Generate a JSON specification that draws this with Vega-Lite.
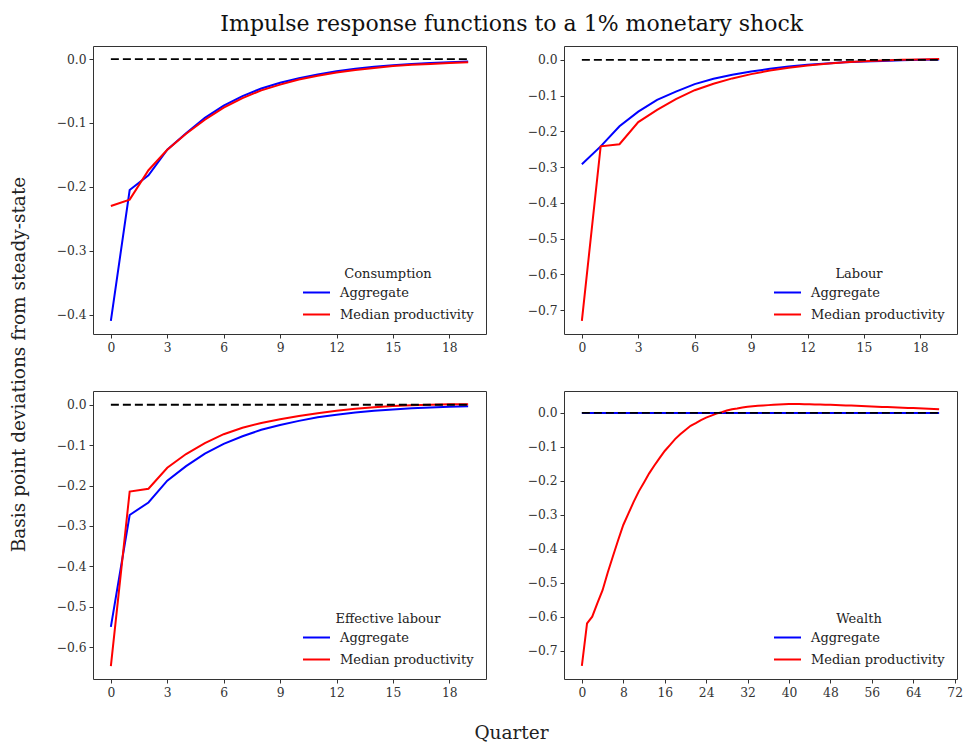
{
  "$schema": "https://vega.github.io/schema/vega-lite/v6.json",
  "padding": {"left": 8, "top": 12, "right": 5, "bottom": 0},
  "background": "white",
  "title": {"text": "Impulse response functions to a 1% monetary shock", "anchor": "middle", "fontSize": 22, "font": "DejaVu Serif", "fontWeight": "normal", "color": "#111", "offset": 10, "dx": 26},
  "config": {
    "view": {"stroke": "#333", "strokeWidth": 1},
    "font": "DejaVu Serif",
    "axis": {"labelFont": "DejaVu Serif", "labelFontSize": 12.3, "labelColor": "#333", "tickColor": "#333", "tickSize": 4, "labelPadding": 3, "domain": false, "grid": false, "titleFont": "DejaVu Serif", "titleFontWeight": "normal", "titleFontSize": 18.5, "titleColor": "#222"},
    "legend": {"orient": "bottom-right", "offset": 12, "titleFont": "DejaVu Serif", "titleFontWeight": "normal", "titleFontSize": 13, "titleColor": "#222", "labelFont": "DejaVu Serif", "labelFontSize": 13, "labelColor": "#222", "labelOffset": 9, "symbolType": "stroke", "symbolStrokeWidth": 2, "symbolSize": 729, "titleAnchor": "middle", "rowPadding": -5, "titlePadding": -3}
  },
  "datasets": {
    "cons": [
      {"q": 0, "Aggregate": -0.410, "Median productivity": -0.230},
      {"q": 1, "Aggregate": -0.205, "Median productivity": -0.220},
      {"q": 2, "Aggregate": -0.182, "Median productivity": -0.174},
      {"q": 3, "Aggregate": -0.142, "Median productivity": -0.142},
      {"q": 4, "Aggregate": -0.116, "Median productivity": -0.117},
      {"q": 5, "Aggregate": -0.092, "Median productivity": -0.095},
      {"q": 6, "Aggregate": -0.073, "Median productivity": -0.076},
      {"q": 7, "Aggregate": -0.058, "Median productivity": -0.061},
      {"q": 8, "Aggregate": -0.046, "Median productivity": -0.049},
      {"q": 9, "Aggregate": -0.037, "Median productivity": -0.040},
      {"q": 10, "Aggregate": -0.030, "Median productivity": -0.032},
      {"q": 11, "Aggregate": -0.024, "Median productivity": -0.026},
      {"q": 12, "Aggregate": -0.019, "Median productivity": -0.021},
      {"q": 13, "Aggregate": -0.015, "Median productivity": -0.017},
      {"q": 14, "Aggregate": -0.012, "Median productivity": -0.014},
      {"q": 15, "Aggregate": -0.0095, "Median productivity": -0.011},
      {"q": 16, "Aggregate": -0.0076, "Median productivity": -0.009},
      {"q": 17, "Aggregate": -0.006, "Median productivity": -0.0075},
      {"q": 18, "Aggregate": -0.0048, "Median productivity": -0.006},
      {"q": 19, "Aggregate": -0.0038, "Median productivity": -0.005}
    ],
    "labour": [
      {"q": 0, "Aggregate": -0.292, "Median productivity": -0.730},
      {"q": 1, "Aggregate": -0.242, "Median productivity": -0.242},
      {"q": 2, "Aggregate": -0.186, "Median productivity": -0.236},
      {"q": 3, "Aggregate": -0.145, "Median productivity": -0.174},
      {"q": 4, "Aggregate": -0.112, "Median productivity": -0.140},
      {"q": 5, "Aggregate": -0.089, "Median productivity": -0.110},
      {"q": 6, "Aggregate": -0.068, "Median productivity": -0.085},
      {"q": 7, "Aggregate": -0.053, "Median productivity": -0.067},
      {"q": 8, "Aggregate": -0.042, "Median productivity": -0.052},
      {"q": 9, "Aggregate": -0.033, "Median productivity": -0.040},
      {"q": 10, "Aggregate": -0.025, "Median productivity": -0.030},
      {"q": 11, "Aggregate": -0.019, "Median productivity": -0.022},
      {"q": 12, "Aggregate": -0.014, "Median productivity": -0.016},
      {"q": 13, "Aggregate": -0.010, "Median productivity": -0.011},
      {"q": 14, "Aggregate": -0.007, "Median productivity": -0.007},
      {"q": 15, "Aggregate": -0.005, "Median productivity": -0.004},
      {"q": 16, "Aggregate": -0.003, "Median productivity": -0.002},
      {"q": 17, "Aggregate": -0.001, "Median productivity": 0.000},
      {"q": 18, "Aggregate": 0.000, "Median productivity": 0.001},
      {"q": 19, "Aggregate": 0.001, "Median productivity": 0.002}
    ],
    "eff": [
      {"q": 0, "Aggregate": -0.550, "Median productivity": -0.647},
      {"q": 1, "Aggregate": -0.273, "Median productivity": -0.215},
      {"q": 2, "Aggregate": -0.242, "Median productivity": -0.208},
      {"q": 3, "Aggregate": -0.188, "Median productivity": -0.156},
      {"q": 4, "Aggregate": -0.152, "Median productivity": -0.122},
      {"q": 5, "Aggregate": -0.121, "Median productivity": -0.095},
      {"q": 6, "Aggregate": -0.097, "Median productivity": -0.073},
      {"q": 7, "Aggregate": -0.078, "Median productivity": -0.057},
      {"q": 8, "Aggregate": -0.062, "Median productivity": -0.045},
      {"q": 9, "Aggregate": -0.050, "Median productivity": -0.036},
      {"q": 10, "Aggregate": -0.040, "Median productivity": -0.028},
      {"q": 11, "Aggregate": -0.031, "Median productivity": -0.021},
      {"q": 12, "Aggregate": -0.025, "Median productivity": -0.015},
      {"q": 13, "Aggregate": -0.019, "Median productivity": -0.010},
      {"q": 14, "Aggregate": -0.015, "Median productivity": -0.006},
      {"q": 15, "Aggregate": -0.012, "Median productivity": -0.003},
      {"q": 16, "Aggregate": -0.009, "Median productivity": -0.001},
      {"q": 17, "Aggregate": -0.007, "Median productivity": 0.000},
      {"q": 18, "Aggregate": -0.005, "Median productivity": 0.001},
      {"q": 19, "Aggregate": -0.004, "Median productivity": 0.0015}
    ],
    "wealth": [
      {"q": 0, "Aggregate": 0, "Median productivity": -0.745},
      {"q": 1, "Aggregate": 0, "Median productivity": -0.620},
      {"q": 2, "Aggregate": 0, "Median productivity": -0.600},
      {"q": 3, "Aggregate": 0, "Median productivity": -0.560},
      {"q": 4, "Aggregate": 0, "Median productivity": -0.522},
      {"q": 5, "Aggregate": 0, "Median productivity": -0.470},
      {"q": 6, "Aggregate": 0, "Median productivity": -0.422},
      {"q": 7, "Aggregate": 0, "Median productivity": -0.375},
      {"q": 8, "Aggregate": 0, "Median productivity": -0.330},
      {"q": 9, "Aggregate": 0, "Median productivity": -0.296},
      {"q": 10, "Aggregate": 0, "Median productivity": -0.262},
      {"q": 11, "Aggregate": 0, "Median productivity": -0.231},
      {"q": 12, "Aggregate": 0, "Median productivity": -0.205},
      {"q": 13, "Aggregate": 0, "Median productivity": -0.178},
      {"q": 14, "Aggregate": 0, "Median productivity": -0.155},
      {"q": 15, "Aggregate": 0, "Median productivity": -0.133},
      {"q": 16, "Aggregate": 0, "Median productivity": -0.112},
      {"q": 17, "Aggregate": 0, "Median productivity": -0.095},
      {"q": 18, "Aggregate": 0, "Median productivity": -0.077},
      {"q": 19, "Aggregate": 0, "Median productivity": -0.063},
      {"q": 20, "Aggregate": 0, "Median productivity": -0.050},
      {"q": 21, "Aggregate": 0, "Median productivity": -0.038},
      {"q": 22, "Aggregate": 0, "Median productivity": -0.030},
      {"q": 23, "Aggregate": 0, "Median productivity": -0.021},
      {"q": 24, "Aggregate": 0, "Median productivity": -0.014},
      {"q": 25, "Aggregate": 0, "Median productivity": -0.008},
      {"q": 26, "Aggregate": 0, "Median productivity": -0.002},
      {"q": 27, "Aggregate": 0, "Median productivity": 0.002},
      {"q": 28, "Aggregate": 0, "Median productivity": 0.007},
      {"q": 29, "Aggregate": 0, "Median productivity": 0.011},
      {"q": 30, "Aggregate": 0, "Median productivity": 0.013},
      {"q": 31, "Aggregate": 0, "Median productivity": 0.016},
      {"q": 32, "Aggregate": 0, "Median productivity": 0.018},
      {"q": 33, "Aggregate": 0, "Median productivity": 0.020},
      {"q": 34, "Aggregate": 0, "Median productivity": 0.021},
      {"q": 35, "Aggregate": 0, "Median productivity": 0.022},
      {"q": 36, "Aggregate": 0, "Median productivity": 0.023},
      {"q": 37, "Aggregate": 0, "Median productivity": 0.024},
      {"q": 38, "Aggregate": 0, "Median productivity": 0.025},
      {"q": 39, "Aggregate": 0, "Median productivity": 0.0255},
      {"q": 40, "Aggregate": 0, "Median productivity": 0.026},
      {"q": 41, "Aggregate": 0, "Median productivity": 0.026},
      {"q": 42, "Aggregate": 0, "Median productivity": 0.026},
      {"q": 43, "Aggregate": 0, "Median productivity": 0.0258},
      {"q": 44, "Aggregate": 0, "Median productivity": 0.0255},
      {"q": 45, "Aggregate": 0, "Median productivity": 0.025},
      {"q": 46, "Aggregate": 0, "Median productivity": 0.0248},
      {"q": 47, "Aggregate": 0, "Median productivity": 0.0244},
      {"q": 48, "Aggregate": 0, "Median productivity": 0.024},
      {"q": 49, "Aggregate": 0, "Median productivity": 0.0234},
      {"q": 50, "Aggregate": 0, "Median productivity": 0.0228},
      {"q": 51, "Aggregate": 0, "Median productivity": 0.0222},
      {"q": 52, "Aggregate": 0, "Median productivity": 0.0216},
      {"q": 53, "Aggregate": 0, "Median productivity": 0.021},
      {"q": 54, "Aggregate": 0, "Median productivity": 0.0204},
      {"q": 55, "Aggregate": 0, "Median productivity": 0.0198},
      {"q": 56, "Aggregate": 0, "Median productivity": 0.019},
      {"q": 57, "Aggregate": 0, "Median productivity": 0.0184},
      {"q": 58, "Aggregate": 0, "Median productivity": 0.0178},
      {"q": 59, "Aggregate": 0, "Median productivity": 0.0172},
      {"q": 60, "Aggregate": 0, "Median productivity": 0.0166},
      {"q": 61, "Aggregate": 0, "Median productivity": 0.016},
      {"q": 62, "Aggregate": 0, "Median productivity": 0.0154},
      {"q": 63, "Aggregate": 0, "Median productivity": 0.0148},
      {"q": 64, "Aggregate": 0, "Median productivity": 0.0142},
      {"q": 65, "Aggregate": 0, "Median productivity": 0.0136},
      {"q": 66, "Aggregate": 0, "Median productivity": 0.013},
      {"q": 67, "Aggregate": 0, "Median productivity": 0.0124},
      {"q": 68, "Aggregate": 0, "Median productivity": 0.0118},
      {"q": 69, "Aggregate": 0, "Median productivity": 0.011}
    ]
  },
  "bounds": "flush",
  "columns": 2,
  "spacing": {"column": 78, "row": 57},
  "concat": [
    {
      "width": 393, "height": 288,
      "layer": [
        {
          "data": {"name": "cons"},
          "transform": [{"fold": ["Aggregate", "Median productivity"], "as": ["series", "value"]}],
          "mark": {"type": "line", "strokeWidth": 2},
          "encoding": {
            "x": {"field": "q", "type": "quantitative", "scale": {"domain": [-0.95, 19.95], "nice": false, "zero": false}, "axis": {"values": [0, 3, 6, 9, 12, 15, 18], "title": null}},
            "y": {"field": "value", "type": "quantitative", "scale": {"domain": [-0.4305, 0.0205], "nice": false, "zero": false}, "axis": {"values": [0, -0.1, -0.2, -0.3, -0.4], "format": ".1f", "title": "Basis point deviations from steady-state", "titleX": -75, "titleY": 318, "titleAngle": 270, "titleBaseline": "middle", "titleAlign": "center"}},
            "color": {"field": "series", "type": "nominal", "scale": {"domain": ["Aggregate", "Median productivity"], "range": ["#0000ff", "#ff0000"]}, "legend": {"title": "Consumption"}}
          }
        },
        {
          "data": {"values": [{"q0": 0, "q1": 19, "v": 0}]},
          "mark": {"type": "rule", "color": "black", "strokeDash": [8, 4], "strokeWidth": 1.8},
          "encoding": {"x": {"field": "q0", "type": "quantitative"}, "x2": {"field": "q1"}, "y": {"field": "v", "type": "quantitative"}}
        }
      ]
    },
    {
      "width": 393, "height": 288,
      "layer": [
        {
          "data": {"name": "labour"},
          "transform": [{"fold": ["Aggregate", "Median productivity"], "as": ["series", "value"]}],
          "mark": {"type": "line", "strokeWidth": 2},
          "encoding": {
            "x": {"field": "q", "type": "quantitative", "scale": {"domain": [-0.95, 19.95], "nice": false, "zero": false}, "axis": {"values": [0, 3, 6, 9, 12, 15, 18], "title": null}},
            "y": {"field": "value", "type": "quantitative", "scale": {"domain": [-0.7666, 0.0386], "nice": false, "zero": false}, "axis": {"values": [0, -0.1, -0.2, -0.3, -0.4, -0.5, -0.6, -0.7], "format": ".1f", "title": null}},
            "color": {"field": "series", "type": "nominal", "scale": {"domain": ["Aggregate", "Median productivity"], "range": ["#0000ff", "#ff0000"]}, "legend": {"title": "Labour"}}
          }
        },
        {
          "data": {"values": [{"q0": 0, "q1": 19, "v": 0}]},
          "mark": {"type": "rule", "color": "black", "strokeDash": [8, 4], "strokeWidth": 1.8},
          "encoding": {"x": {"field": "q0", "type": "quantitative"}, "x2": {"field": "q1"}, "y": {"field": "v", "type": "quantitative"}}
        }
      ]
    },
    {
      "width": 393, "height": 288,
      "layer": [
        {
          "data": {"name": "eff"},
          "transform": [{"fold": ["Aggregate", "Median productivity"], "as": ["series", "value"]}],
          "mark": {"type": "line", "strokeWidth": 2},
          "encoding": {
            "x": {"field": "q", "type": "quantitative", "scale": {"domain": [-0.95, 19.95], "nice": false, "zero": false}, "axis": {"values": [0, 3, 6, 9, 12, 15, 18], "title": "Quarter", "titleX": 418, "titleY": 53, "titleBaseline": "middle", "titleAlign": "center"}},
            "y": {"field": "value", "type": "quantitative", "scale": {"domain": [-0.679, 0.034], "nice": false, "zero": false}, "axis": {"values": [0, -0.1, -0.2, -0.3, -0.4, -0.5, -0.6], "format": ".1f", "title": null}},
            "color": {"field": "series", "type": "nominal", "scale": {"domain": ["Aggregate", "Median productivity"], "range": ["#0000ff", "#ff0000"]}, "legend": {"title": "Effective labour"}}
          }
        },
        {
          "data": {"values": [{"q0": 0, "q1": 19, "v": 0}]},
          "mark": {"type": "rule", "color": "black", "strokeDash": [8, 4], "strokeWidth": 1.8},
          "encoding": {"x": {"field": "q0", "type": "quantitative"}, "x2": {"field": "q1"}, "y": {"field": "v", "type": "quantitative"}}
        }
      ]
    },
    {
      "width": 393, "height": 288,
      "layer": [
        {
          "data": {"name": "wealth"},
          "transform": [{"fold": ["Aggregate", "Median productivity"], "as": ["series", "value"]}],
          "mark": {"type": "line", "strokeWidth": 2},
          "encoding": {
            "x": {"field": "q", "type": "quantitative", "scale": {"domain": [-3.45, 72.45], "nice": false, "zero": false}, "axis": {"values": [0, 8, 16, 24, 32, 40, 48, 56, 64, 72], "title": null}},
            "y": {"field": "value", "type": "quantitative", "scale": {"domain": [-0.7836, 0.0646], "nice": false, "zero": false}, "axis": {"values": [0, -0.1, -0.2, -0.3, -0.4, -0.5, -0.6, -0.7], "format": ".1f", "title": null}},
            "color": {"field": "series", "type": "nominal", "scale": {"domain": ["Aggregate", "Median productivity"], "range": ["#0000ff", "#ff0000"]}, "legend": {"title": "Wealth"}}
          }
        },
        {
          "data": {"values": [{"q0": 0, "q1": 69, "v": 0}]},
          "mark": {"type": "rule", "color": "black", "strokeDash": [8, 4], "strokeWidth": 1.8},
          "encoding": {"x": {"field": "q0", "type": "quantitative"}, "x2": {"field": "q1"}, "y": {"field": "v", "type": "quantitative"}}
        }
      ]
    }
  ],
  "resolve": {"scale": {"x": "independent", "y": "independent", "color": "independent"}, "legend": {"color": "independent"}}
}
